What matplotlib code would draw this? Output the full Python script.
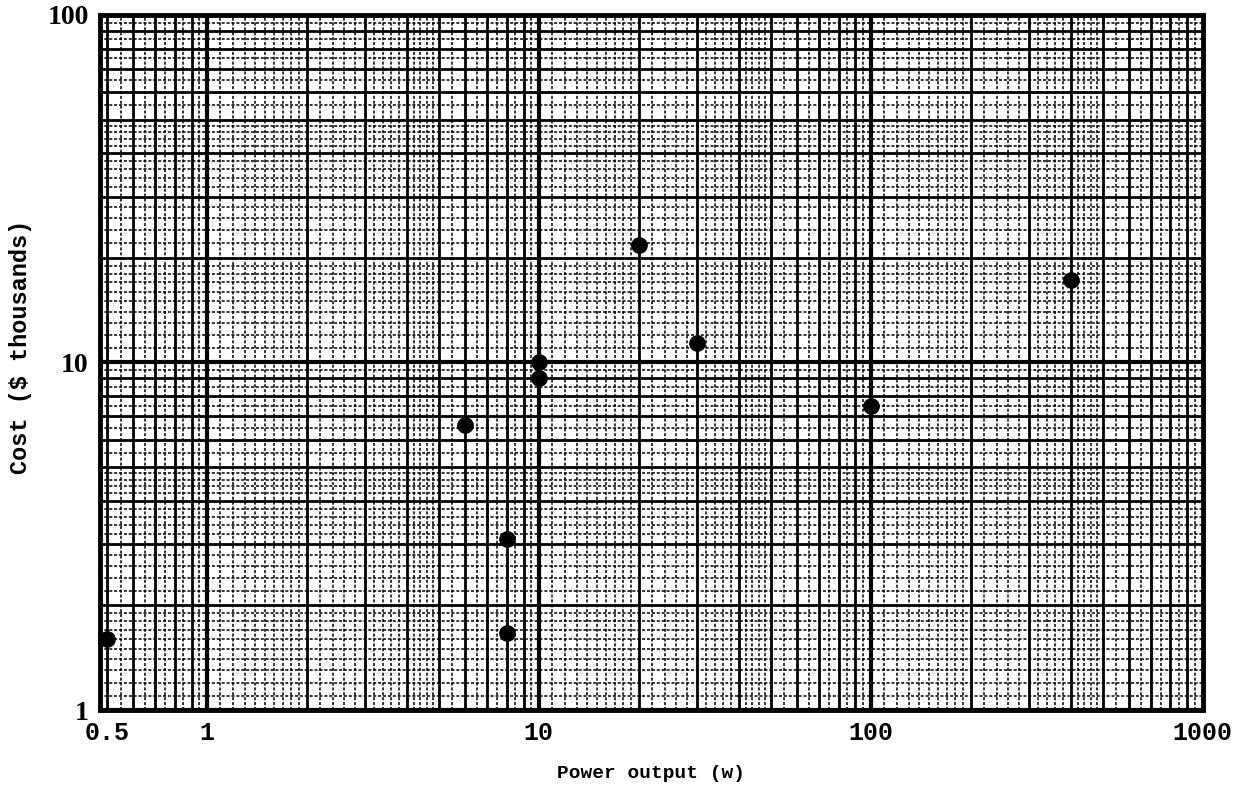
import numpy as np
import matplotlib
matplotlib.use("Agg")
import matplotlib.pyplot as plt

# data
power_w = [0.5, 6, 8, 8, 10, 10, 20, 30, 100, 400]
cost_k = [1.6, 6.6, 3.1, 1.67, 10, 9, 21.8, 11.4, 7.5, 17.3]

x_ticks = [0.5, 1, 10, 100, 1000]
x_ticklabels = ["0.5", "1", "10", "100", "1000"]
y_ticks = [1, 10, 100]
y_ticklabels = ["1", "10", "100"]


def paper_lines(decades):
    """
    Line positions of a printed log sheet, split by weight.
    """
    heavy, medium, fine = [], [], []
    for d in decades:
        base = 10.0 ** d
        heavy.append(base)
        for n in range(2, 10):
            medium.append(n * base)
        for n in range(1, 10):
            step = 0.1 if n == 1 else (0.2 if n < 5 else 0.5)
            for v in np.arange(n + step, n + 1 - 1e-9, step):
                fine.append(v * base)
    return heavy, medium, fine


fig = plt.figure(figsize=(12.45, 7.87), dpi=100)
ax = fig.add_axes([0.0803, 0.0978, 0.8857, 0.8832])
ax.set_xscale("log")
ax.set_yscale("log")
ax.set_xlim(0.477, 1000)
ax.set_ylim(1, 100)

xh, xm, xf = paper_lines(range(-1, 3))
yh, ym, yf = paper_lines(range(0, 2))

ax.vlines(xf, 1, 100, color="black", lw=1.1, linestyles=(0, (2, 1.2)), zorder=1)
ax.hlines(yf, 0.4, 1000, color="black", lw=1.1, linestyles=(0, (2, 1.2)), zorder=1)
ax.vlines(xm, 1, 100, color="black", lw=2.0, zorder=2)
ax.hlines(ym, 0.4, 1000, color="black", lw=2.0, zorder=2)
ax.vlines(xh, 1, 100, color="black", lw=3.0, zorder=2)
ax.hlines(yh, 0.4, 1000, color="black", lw=3.0, zorder=2)

ax.plot(power_w, cost_k, "o", color="black", markersize=11, zorder=5, clip_on=False)

for s in ax.spines.values():
    s.set_linewidth(3.5)
    s.set_color("black")

ax.set_xticks(x_ticks)
ax.set_xticklabels(x_ticklabels, fontfamily="Liberation Mono", fontweight="bold", fontsize=18)
ax.set_yticks(y_ticks)
ax.set_yticklabels(y_ticklabels, fontfamily="Liberation Serif", fontweight="bold", fontsize=20)
ax.minorticks_off()
ax.tick_params(length=0, pad=8)

ax.set_xlabel("Power output (w)", fontfamily="Liberation Mono", fontweight="bold",
              fontsize=14, labelpad=14)
ax.set_ylabel("Cost ($ thousands)", fontfamily="Liberation Mono", fontweight="bold",
              fontsize=17)
ax.yaxis.set_label_coords(-0.062, 0.522)

fig.savefig("out.png", dpi=100)
